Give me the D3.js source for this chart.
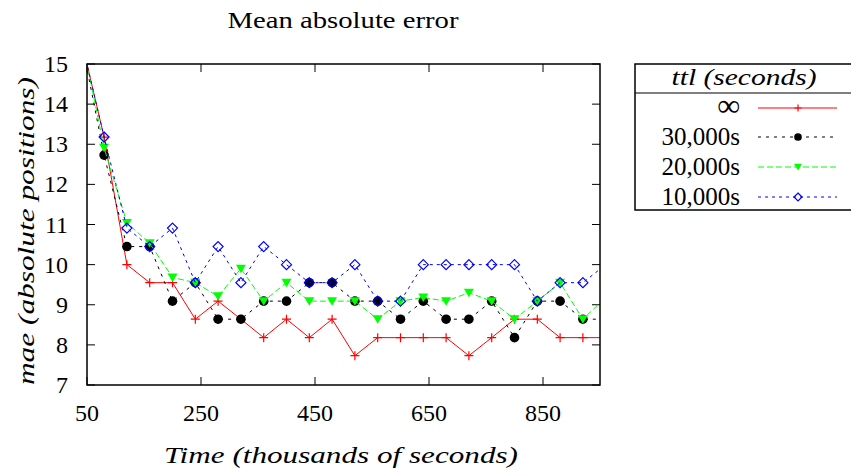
<!DOCTYPE html>
<html>
<head>
<meta charset="utf-8">
<script src="https://cdn.jsdelivr.net/npm/d3@7"></script>
<style>
  html, body { margin: 0; padding: 0; background: #fff; }
  svg { display: block; }
  svg text { font-family: "Liberation Serif", "DejaVu Serif", serif; fill: #000; }
</style>
</head>
<body>
<svg id="chart" width="851" height="472"></svg>
<script>
// ---- data ----
const times = [40, 80, 120, 160, 200, 240, 280, 320, 360, 400, 440, 480, 520, 560, 600, 640, 680, 720, 760, 800, 840, 880, 920, 960];
const maeInf   = [15.6, 13.18, 10.0, 9.55, 9.55, 8.64, 9.09, 8.64, 8.18, 8.64, 8.18, 8.64, 7.73, 8.18, 8.18, 8.18, 8.18, 7.73, 8.18, 8.64, 8.64, 8.18, 8.18, 8.18];
const mae30000 = [15.6, 12.73, 10.45, 10.45, 9.09, 9.55, 8.64, 8.64, 9.09, 9.09, 9.55, 9.55, 9.09, 9.09, 8.64, 9.09, 8.64, 8.64, 9.09, 8.18, 9.09, 9.09, 8.64, 8.64];
const mae20000 = [15.7, 12.91, 11.04, 10.53, 9.68, 9.55, 9.21, 9.9, 9.09, 9.55, 9.09, 9.09, 9.09, 8.64, 9.09, 9.18, 9.09, 9.3, 9.09, 8.64, 9.09, 9.55, 8.64, 9.18];
const mae10000 = [15.6, 13.18, 10.91, 10.45, 10.91, 9.55, 10.45, 9.55, 10.45, 10.0, 9.55, 9.55, 10.0, 9.09, 9.09, 10.0, 10.0, 10.0, 10.0, 10.0, 9.09, 9.55, 9.55, 10.0];
const seriesLabels = ["\u221E", "30,000s", "20,000s", "10,000s"];
const xTicks = [50, 250, 450, 650, 850];
const yTicks = [7, 8, 9, 10, 11, 12, 13, 14, 15];
const xDomain = [50, 950];
const yDomain = [7, 15];

// ---- layout ----
const svg = d3.select("#chart");
const L = 87, R = 600, T = 64, B = 385;
const x = d3.scaleLinear().domain(xDomain).range([L, R]);
const y = d3.scaleLinear().domain(yDomain).range([B, T]);

const styles = [
  { color: "#ff0000", dash: null, marker: "plus" },
  { color: "#000000", dash: "3,5", marker: "circle" },
  { color: "#00ff00", dash: "6,3", marker: "tri" },
  { color: "#0000ff", dash: "3,4", marker: "diamond" }
];
const allSeries = [maeInf, mae30000, mae20000, mae10000];

function drawMarker(g, type, color, s) {
  s = s || 1;
  if (type === "plus") {
    g.append("path").attr("d", `M${-4.5*s},0H${4.5*s}M0,${-4.5*s}V${4.5*s}`)
      .attr("stroke", color).attr("stroke-width", 1.2).attr("fill", "none");
  } else if (type === "circle") {
    g.append("circle").attr("r", 4.8*s).attr("fill", color);
  } else if (type === "tri") {
    g.append("path").attr("d", `M${-5*s},${-4*s}L${5*s},${-4*s}L0,${4.5*s}Z`).attr("fill", color);
  } else if (type === "diamond") {
    g.append("path").attr("d", `M0,${-5*s}L${5*s},0L0,${5*s}L${-5*s},0Z`)
      .attr("fill", "none").attr("stroke", color).attr("stroke-width", 1.2);
  }
}

// title
svg.append("text").attr("x", 343).attr("y", 28).attr("text-anchor", "middle")
  .attr("font-size", 23).attr("textLength", 231).attr("lengthAdjust", "spacingAndGlyphs")
  .text("Mean absolute error");

// clip
svg.append("defs").append("clipPath").attr("id", "plotclip")
  .append("rect").attr("x", L).attr("y", T).attr("width", R - L).attr("height", B - T);

// ticks (inward, mirrored)
const tickG = svg.append("g").attr("stroke", "#000").attr("stroke-width", 1);
xTicks.forEach(t => {
  tickG.append("line").attr("x1", x(t)).attr("x2", x(t)).attr("y1", B).attr("y2", B - 8);
  tickG.append("line").attr("x1", x(t)).attr("x2", x(t)).attr("y1", T).attr("y2", T + 8);
});
yTicks.forEach(t => {
  tickG.append("line").attr("x1", L).attr("x2", L + 8).attr("y1", y(t)).attr("y2", y(t));
  tickG.append("line").attr("x1", R).attr("x2", R - 8).attr("y1", y(t)).attr("y2", y(t));
});

// tick labels
svg.append("g").selectAll("text").data(xTicks).join("text")
  .attr("x", d => x(d)).attr("y", 421).attr("text-anchor", "middle")
  .attr("font-size", 24).text(d => d);
svg.append("g").selectAll("text").data(yTicks).join("text")
  .attr("x", 68).attr("y", d => y(d) + 8).attr("text-anchor", "end")
  .attr("font-size", 24).text(d => d);

// axis titles
svg.append("text").attr("x", 341).attr("y", 463).attr("text-anchor", "middle")
  .attr("font-size", 24).attr("font-style", "italic")
  .attr("textLength", 354).attr("lengthAdjust", "spacingAndGlyphs")
  .text("Time (thousands of seconds)");
svg.append("text").attr("transform", "translate(34,231) rotate(-90)")
  .attr("text-anchor", "middle").attr("font-size", 24).attr("font-style", "italic")
  .attr("textLength", 308).attr("lengthAdjust", "spacingAndGlyphs")
  .text("mae (absolute positions)");

// lines and points
const plot = svg.append("g").attr("clip-path", "url(#plotclip)");
const line = d3.line().x((d, i) => x(times[i])).y(d => y(d));
allSeries.forEach((vals, si) => {
  const st = styles[si];
  plot.append("path").datum(vals).attr("d", line)
    .attr("fill", "none").attr("stroke", st.color).attr("stroke-width", 1)
    .attr("stroke-dasharray", st.dash);
  vals.forEach((v, i) => {
    const g = plot.append("g").attr("transform", `translate(${x(times[i])},${y(v)})`);
    drawMarker(g, st.marker, st.color, 1);
  });
});

// frame
svg.append("rect").attr("x", L).attr("y", T).attr("width", R - L).attr("height", B - T)
  .attr("fill", "none").attr("stroke", "#000").attr("stroke-width", 1.5);

// legend
const lg = svg.append("g");
lg.append("rect").attr("x", 635).attr("y", 64).attr("width", 220).attr("height", 146)
  .attr("fill", "#fff").attr("stroke", "#000").attr("stroke-width", 1.5);
lg.append("line").attr("x1", 635).attr("x2", 855).attr("y1", 93).attr("y2", 93)
  .attr("stroke", "#000").attr("stroke-width", 1.2);
lg.append("text").attr("x", 744).attr("y", 85).attr("text-anchor", "middle")
  .attr("font-size", 24).attr("font-style", "italic")
  .attr("textLength", 145).attr("lengthAdjust", "spacingAndGlyphs")
  .text("ttl (seconds)");
const rowY = [108, 137, 167, 197];
seriesLabels.forEach((lab, i) => {
  const st = styles[i];
  lg.append("text").attr("x", 740).attr("y", rowY[i] + 8).attr("text-anchor", "end")
    .attr("font-size", i === 0 ? 32 : 25).text(lab);
  lg.append("line").attr("x1", 758).attr("x2", 837).attr("y1", rowY[i]).attr("y2", rowY[i])
    .attr("stroke", st.color).attr("stroke-width", 1).attr("stroke-dasharray", st.dash);
  const g = lg.append("g").attr("transform", `translate(798,${rowY[i]})`);
  drawMarker(g, st.marker, st.color, 0.8);
});
</script>
</body>
</html>
